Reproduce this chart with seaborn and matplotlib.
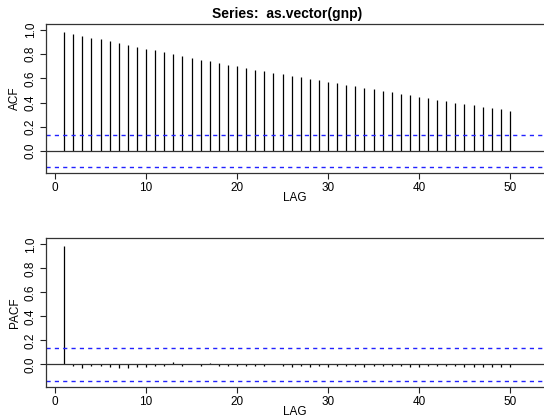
import numpy as np
import pandas as pd
import matplotlib
matplotlib.use("Agg")
import matplotlib.pyplot as plt
import seaborn as sns

lags = list(range(1, 51))
acf_values = [0.981, 0.967, 0.950, 0.937, 0.923, 0.906, 0.893, 0.876, 0.862, 0.846,
              0.832, 0.815, 0.802, 0.785, 0.769, 0.755, 0.741, 0.727, 0.713, 0.700,
              0.686, 0.672, 0.658, 0.645, 0.634, 0.620, 0.609, 0.595, 0.584, 0.573,
              0.559, 0.545, 0.534, 0.523, 0.510, 0.499, 0.485, 0.474, 0.460, 0.446,
              0.435, 0.424, 0.410, 0.399, 0.388, 0.377, 0.366, 0.355, 0.344, 0.333]
pacf_values = [0.985, -0.01, -0.03, -0.01, -0.01, -0.02, -0.03, -0.03, -0.02, -0.02,
               -0.01, -0.01, 0.02, -0.01, 0.00, -0.01, 0.01, -0.01, -0.01, -0.01,
               -0.01, -0.01, -0.01, 0.00, -0.01, -0.02, -0.01, -0.02, -0.01, -0.02,
               -0.01, -0.01, -0.01, -0.02, -0.01, -0.01, -0.01, -0.01, -0.02, -0.02,
               -0.01, -0.01, -0.01, -0.01, -0.02, -0.02, -0.02, -0.02, -0.02, -0.02]
conf_bound = 0.134
title = "Series:  as.vector(gnp)"
x_ticks = [0, 10, 20, 30, 40, 50]
y_ticks = [0.0, 0.2, 0.4, 0.6, 0.8, 1.0]

df = pd.DataFrame({"LAG": lags, "ACF": acf_values, "PACF": pacf_values})

sns.set_theme(style="ticks", rc={"text.color": "black", "axes.labelcolor": "black",
                                 "xtick.color": "black", "ytick.color": "black"})
plt.rcParams["font.family"] = ["Liberation Sans", "DejaVu Sans"]

fig = plt.figure(figsize=(5.44, 4.17), dpi=100)
ax1 = fig.add_axes([46/544, 1-173.3/417, 1-46/544, 149.3/417])
ax2 = fig.add_axes([46/544, 1-387.3/417, 1-46/544, 149/417])

for ax, col, ylim in [(ax1, "ACF", (-0.184, 1.05)), (ax2, "PACF", (-0.19, 1.05))]:
    ax.vlines(df["LAG"], 0, df[col], color="black", lw=0.9)
    sns.lineplot(x=[-5, 60], y=[0, 0], ax=ax, color="#333333", lw=0.9)
    for b in (conf_bound, -conf_bound):
        ax.axhline(b, color="#2222ff", lw=1.0, linestyle=(0, (3, 3)))
    ax.set_xlim(-1, 53.74)
    ax.set_ylim(*ylim)
    ax.set_xticks(x_ticks)
    ax.set_yticks(y_ticks)
    ax.set_yticklabels([f"{v:.1f}" for v in y_ticks], rotation=90, va="center")
    ax.tick_params(axis="both", labelsize=8.5, length=4, width=0.8, color="#222222",
                   labelcolor="black", pad=2)
    ax.tick_params(axis="y", pad=2.5)
    for s in ("left", "top", "bottom"):
        ax.spines[s].set_visible(True)
        ax.spines[s].set_color("#333333")
        ax.spines[s].set_linewidth(0.9)
    ax.spines["right"].set_visible(False)
    ax.set_xlabel("LAG", fontsize=8.5, labelpad=-1, color="black")
    ax.set_ylabel(col, fontsize=8.5, labelpad=3, color="black")

ax1.set_title(title, fontsize=10, fontweight="bold", pad=4, x=(287-46)/(544-46),
              color="black")

fig.savefig("out.png", dpi=100)
